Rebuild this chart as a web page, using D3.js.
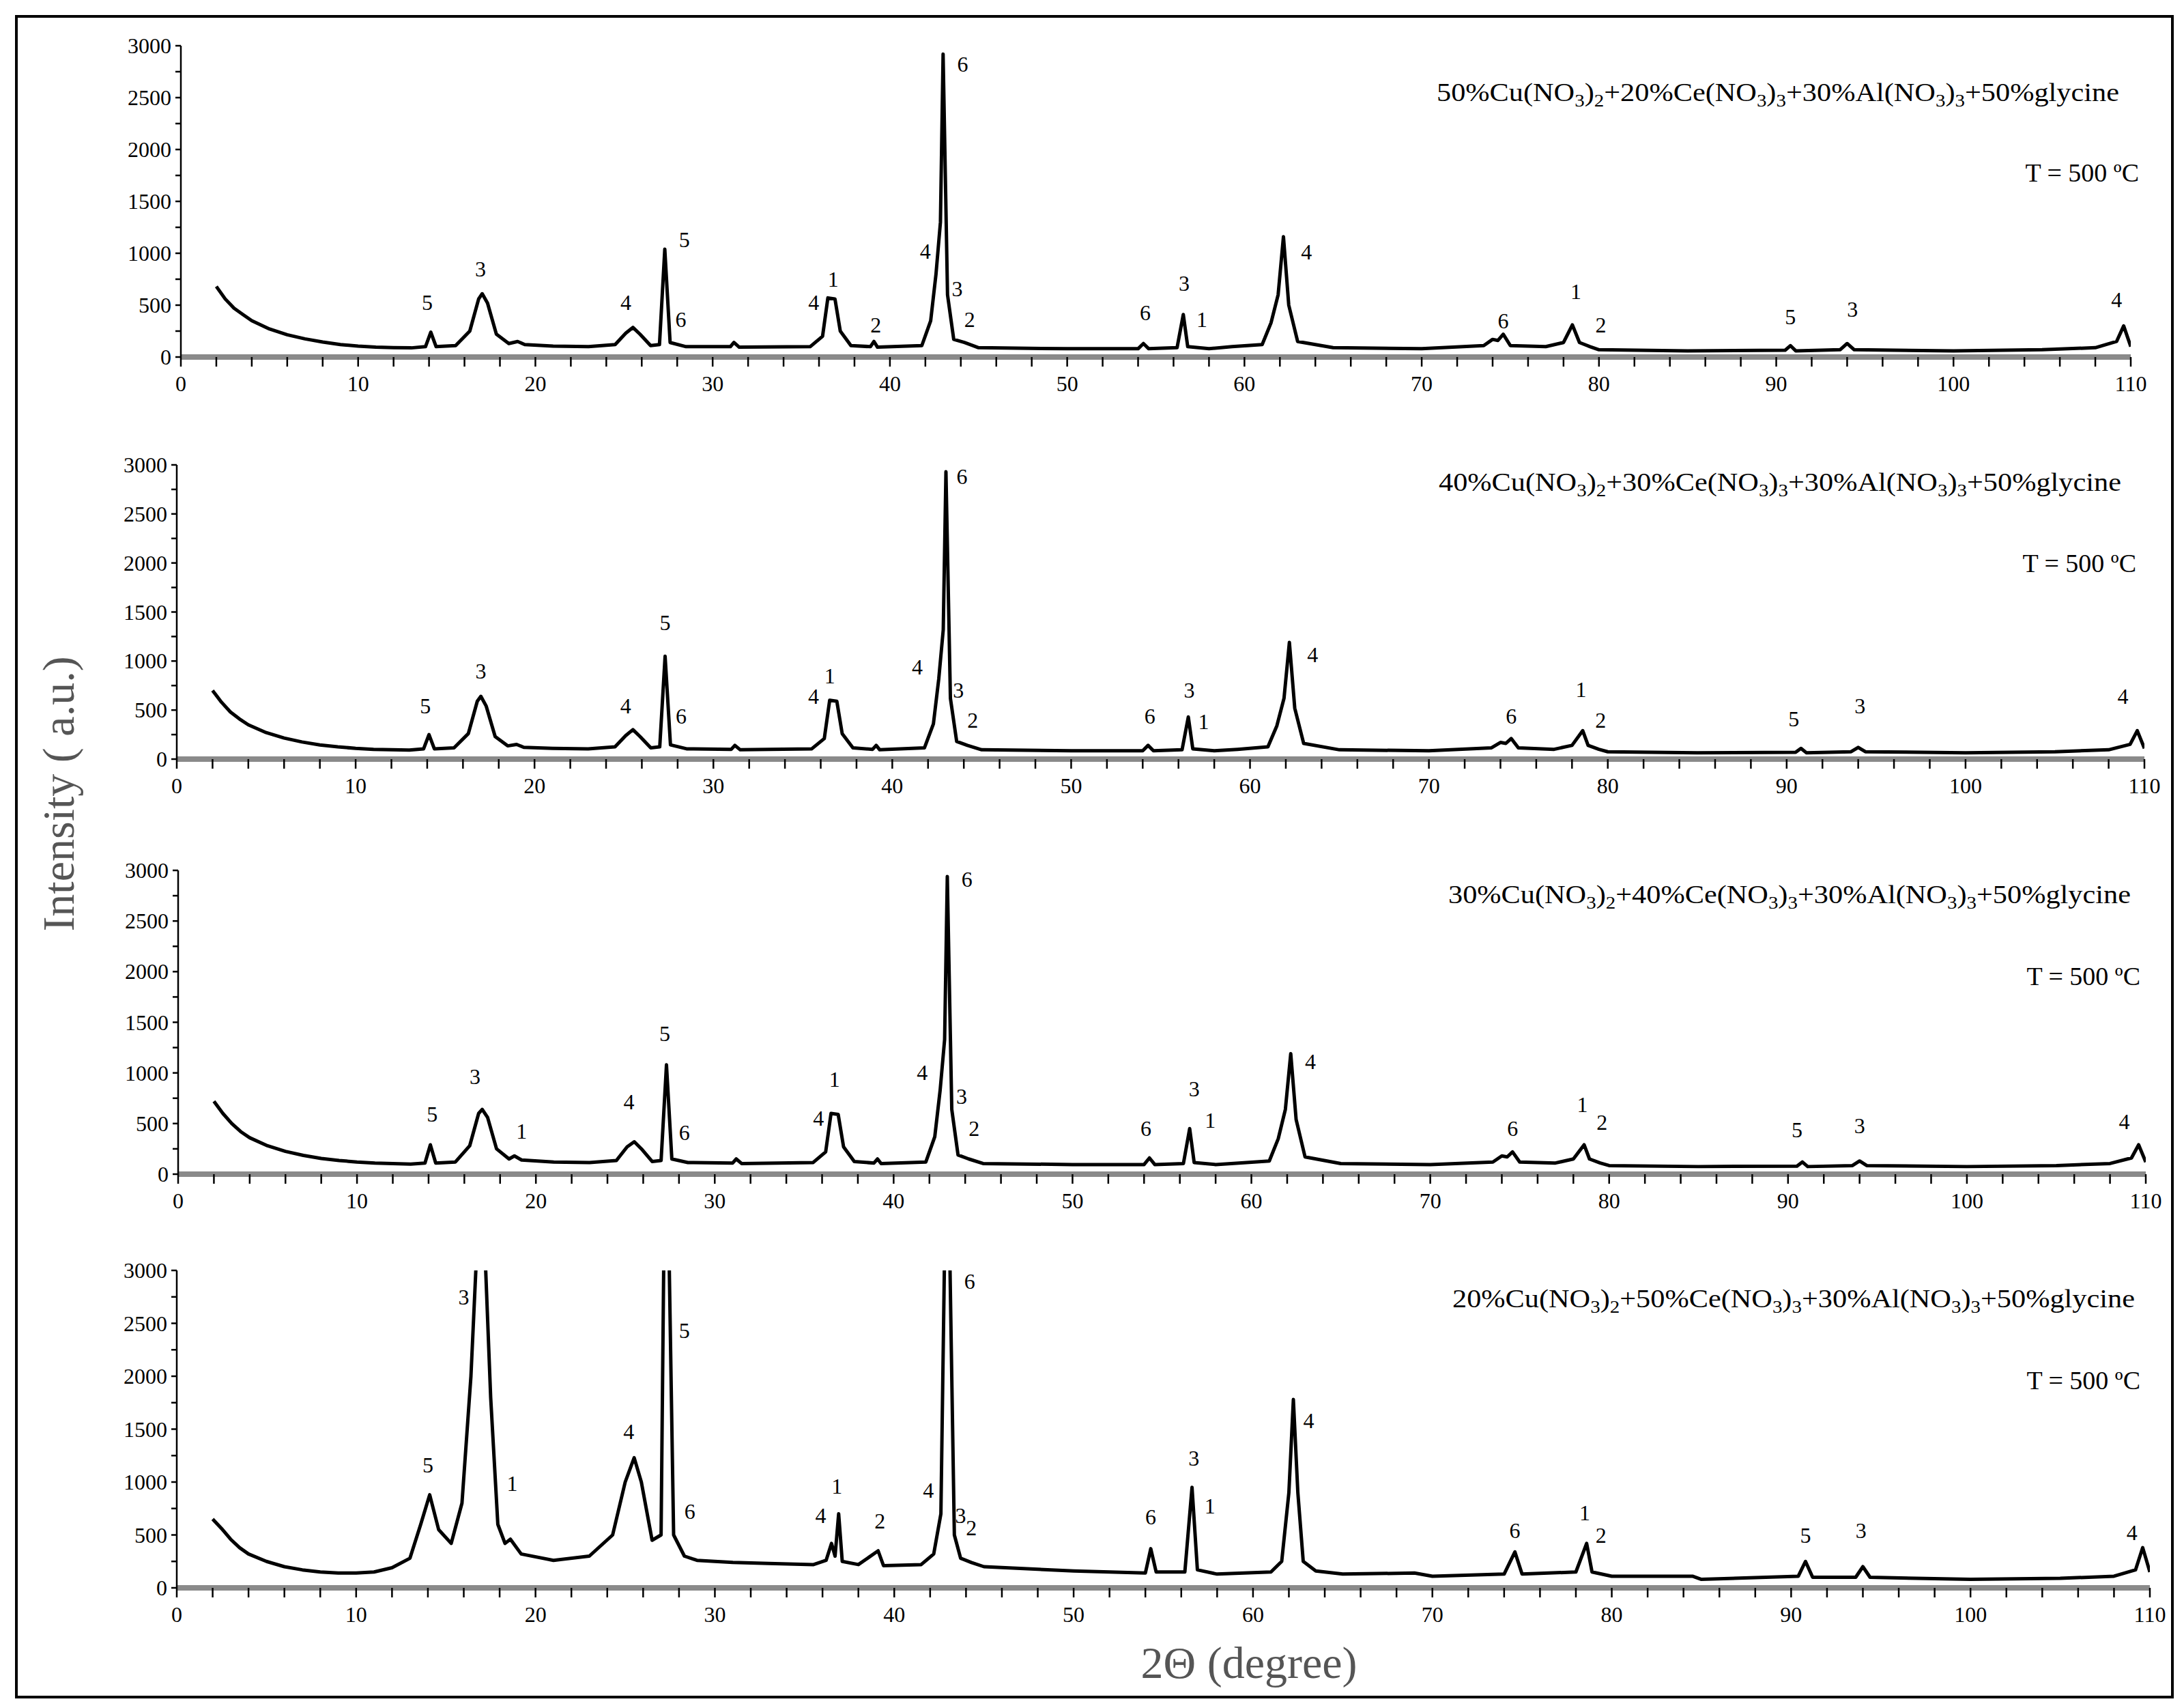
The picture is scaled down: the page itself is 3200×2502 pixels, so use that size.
<!DOCTYPE html>
<html><head><meta charset="utf-8">
<script src="https://cdn.jsdelivr.net/npm/d3@7"></script>
<style>body{margin:0;background:#fff}</style>
</head><body>
<svg id="chart" width="3200" height="2502"></svg>
<script>
// XRD profiles, [2theta, intensity]
const profile1 = [[2,680],[2.5,560],[3,470],[3.5,410],[4,350],[5,270],[6,215],[7,175],[8,145],[9,120],[10,105],[11,95],[12,90],[13,88],[13.8,100],[14.1,240],[14.4,100],[15.5,110],[16.3,250],[16.8,560],[17,610],[17.3,520],[17.8,220],[18.5,130],[19,150],[19.4,120],[21,105],[23,100],[24.5,120],[25.1,230],[25.5,285],[25.9,220],[26.5,110],[27,120],[27.3,1040],[27.6,140],[28.5,100],[31,100],[31.2,140],[31.5,95],[35.5,100],[36.2,200],[36.5,570],[36.9,560],[37.2,250],[37.8,110],[38.9,100],[39.1,150],[39.3,95],[41.8,110],[42.3,350],[42.6,800],[42.85,1300],[43,2920],[43.25,600],[43.6,170],[44.2,140],[45,90],[50,80],[54,80],[54.3,130],[54.6,80],[56.2,90],[56.55,410],[56.8,100],[58,80],[59.3,100],[61,120],[61.5,330],[61.9,600],[62.2,1160],[62.5,500],[63,150],[65,90],[70,80],[73.5,110],[74,170],[74.3,160],[74.6,220],[75,110],[77,100],[78,140],[78.5,310],[78.9,140],[79.5,100],[80,70],[85,60],[90.5,65],[90.8,110],[91.1,60],[93.6,70],[94,130],[94.4,70],[100,60],[105,70],[108,90],[109.2,150],[109.6,300],[110,100]];
const profile2 = [[2,700],[2.5,580],[3,480],[3.5,410],[4,350],[5,270],[6,215],[7,175],[8,145],[9,125],[10,110],[11,100],[12,95],[13,92],[13.8,105],[14.1,250],[14.4,105],[15.5,115],[16.3,260],[16.8,590],[17,640],[17.3,540],[17.8,230],[18.5,135],[19,150],[19.4,120],[21,110],[23,105],[24.5,125],[25.1,240],[25.5,300],[25.9,230],[26.5,115],[27,125],[27.3,1050],[27.6,145],[28.5,105],[31,100],[31.2,140],[31.5,95],[35.5,105],[36.2,210],[36.5,600],[36.9,590],[37.2,260],[37.8,115],[38.9,100],[39.1,140],[39.3,95],[41.8,115],[42.3,360],[42.6,820],[42.85,1320],[43,2930],[43.25,620],[43.6,180],[44.2,140],[45,95],[50,85],[54,85],[54.3,140],[54.6,85],[56.2,95],[56.55,430],[56.8,105],[58,85],[59.3,100],[61,125],[61.5,340],[61.9,620],[62.2,1190],[62.5,520],[63,160],[65,95],[70,85],[73.5,115],[74,170],[74.3,160],[74.6,210],[75,115],[77,100],[78,140],[78.6,290],[78.9,140],[79.5,100],[80,75],[85,65],[90.5,70],[90.8,110],[91.1,65],[93.6,75],[94,120],[94.4,75],[100,65],[105,75],[108,95],[109.2,150],[109.6,290],[110,110]];
const profile3 = [[2,720],[2.5,600],[3,500],[3.5,420],[4,360],[5,280],[6,225],[7,185],[8,155],[9,135],[10,120],[11,110],[12,105],[13,100],[13.8,110],[14.1,290],[14.4,110],[15.5,120],[16.3,280],[16.8,600],[17,640],[17.3,560],[17.8,250],[18.5,150],[18.8,180],[19.2,140],[21,120],[23,115],[24.5,135],[25.1,270],[25.5,320],[25.9,250],[26.5,125],[27,135],[27.3,1080],[27.6,150],[28.5,115],[31,110],[31.2,150],[31.5,105],[35.5,115],[36.2,220],[36.5,600],[36.9,590],[37.2,270],[37.8,125],[38.9,110],[39.1,150],[39.3,105],[41.8,120],[42.3,370],[42.6,830],[42.85,1330],[43,2940],[43.25,640],[43.6,190],[44.2,150],[45,105],[50,95],[54,95],[54.3,160],[54.6,95],[56.2,105],[56.55,450],[56.8,115],[58,95],[59.3,110],[61,130],[61.5,350],[61.9,640],[62.2,1190],[62.5,540],[63,170],[65,105],[70,95],[73.5,120],[74,180],[74.3,170],[74.6,220],[75,120],[77,110],[78,150],[78.6,290],[78.9,150],[79.5,110],[80,85],[85,75],[90.5,80],[90.8,120],[91.1,75],[93.6,85],[94,130],[94.4,85],[100,75],[105,85],[108,105],[109.2,160],[109.6,290],[110,120]];
const profile4 = [[2,650],[2.5,560],[3,460],[3.5,380],[4,320],[5,250],[6,200],[7,170],[8,150],[9,140],[10,140],[11,150],[12,190],[13,280],[13.6,600],[14.1,880],[14.6,550],[15.3,420],[15.9,800],[16.4,2000],[16.7,3100],[17.2,3100],[17.5,1800],[17.9,600],[18.3,420],[18.6,460],[19.2,320],[21,260],[23,300],[24.3,500],[25,1000],[25.5,1230],[25.9,1000],[26.5,450],[27,500],[27.15,3100],[27.45,3100],[27.7,500],[28.3,300],[29,260],[31,240],[33,230],[35.5,220],[36.2,260],[36.5,420],[36.7,300],[36.9,700],[37.1,250],[38,220],[39.1,350],[39.4,210],[41.5,220],[42.2,320],[42.6,700],[42.8,3100],[43.1,3100],[43.35,500],[43.7,280],[44.3,240],[45,200],[50,160],[54,140],[54.3,370],[54.6,150],[56.2,150],[56.6,950],[56.9,170],[58,130],[61,150],[61.6,250],[62,900],[62.25,1780],[62.5,900],[62.8,250],[63.5,160],[65,130],[69,140],[70,110],[74,130],[74.6,340],[75,130],[78,150],[78.6,420],[78.9,150],[80,110],[84.5,110],[85,80],[90.4,110],[90.8,250],[91.2,100],[93.6,100],[94,200],[94.4,100],[100,80],[105,90],[108,110],[109.2,170],[109.6,380],[110,150]];

// peak index labels: [2theta, intensity, label]
const labels1 = [[13.9,525,"5"],[16.9,850,"3"],[25.1,525,"4"],[28.4,1130,"5"],[28.2,365,"6"],[35.7,525,"4"],[36.8,750,"1"],[39.2,310,"2"],[42,1020,"4"],[44.1,2825,"6"],[43.8,660,"3"],[44.5,365,"2"],[54.4,430,"6"],[56.6,710,"3"],[57.6,365,"1"],[63.5,1010,"4"],[74.6,350,"6"],[78.7,630,"1"],[80.1,310,"2"],[90.8,390,"5"],[94.3,460,"3"],[109.2,550,"4"]];
const labels2 = [[13.9,540,"5"],[17,895,"3"],[25.1,540,"4"],[27.3,1390,"5"],[28.2,440,"6"],[35.6,640,"4"],[36.5,850,"1"],[41.4,940,"4"],[43.9,2885,"6"],[43.7,700,"3"],[44.5,400,"2"],[54.4,440,"6"],[56.6,700,"3"],[57.4,385,"1"],[63.5,1065,"4"],[74.6,440,"6"],[78.5,710,"1"],[79.6,400,"2"],[90.4,410,"5"],[94.1,540,"3"],[108.8,640,"4"]];
const labels3 = [[14.2,590,"5"],[16.6,965,"3"],[19.2,425,"1"],[25.2,715,"4"],[27.2,1390,"5"],[28.3,410,"6"],[35.8,550,"4"],[36.7,935,"1"],[41.6,1005,"4"],[44.1,2915,"6"],[43.8,770,"3"],[44.5,455,"2"],[54.1,455,"6"],[56.8,840,"3"],[57.7,535,"1"],[63.3,1115,"4"],[74.6,455,"6"],[78.5,690,"1"],[79.6,510,"2"],[90.5,440,"5"],[94,480,"3"],[108.8,520,"4"]];
const labels4 = [[14,1160,"5"],[16,2750,"3"],[18.7,985,"1"],[25.2,1475,"4"],[28.3,2435,"5"],[28.6,725,"6"],[35.9,685,"4"],[36.8,960,"1"],[39.2,630,"2"],[41.9,920,"4"],[44.2,2895,"6"],[43.7,685,"3"],[44.3,565,"2"],[54.3,670,"6"],[56.7,1225,"3"],[57.6,775,"1"],[63.1,1580,"4"],[74.6,540,"6"],[78.5,710,"1"],[79.4,500,"2"],[90.8,500,"5"],[93.9,540,"3"],[109,525,"4"]];

// sample compositions: Cu, Ce, Al percentages
const compositions = [[50,20,30],[40,30,30],[30,40,30],[20,50,30]];
const yTicks = d3.range(0, 3001, 250);
const xTicks = d3.range(0, 111, 2);

const profiles = [profile1, profile2, profile3, profile4];
const labelSets = [labels1, labels2, labels3, labels4];
const panels = [
  {left:265, right:3122, top:67, bottom:523, fy:148, ty:266, fx:3105, tx:3134},
  {left:259, right:3142, top:681, bottom:1112, fy:719, ty:838, fx:3108, tx:3130},
  {left:261, right:3144, top:1275, bottom:1720, fy:1323, ty:1443, fx:3122, tx:3136},
  {left:259, right:3150, top:1861, bottom:2326, fy:1915, ty:2035, fx:3128, tx:3136}
];

const svg = d3.select('#chart');
const serif = "'Liberation Serif', 'Times New Roman', serif";
svg.append('rect').attr('x', 24).attr('y', 24).attr('width', 3159).attr('height', 2462)
  .attr('fill', 'none').attr('stroke', '#000').attr('stroke-width', 4);

panels.forEach(function(p, i) {
  let x = d3.scaleLinear().domain([0, 110]).range([p.left, p.right]);
  let y = d3.scaleLinear().domain([0, 3000]).range([p.bottom, p.top]);
  let g = svg.append('g');

  g.append('clipPath').attr('id', 'clip' + i).append('rect')
    .attr('x', p.left).attr('y', p.top).attr('width', p.right - p.left).attr('height', p.bottom - p.top);

  // x axis: grey baseline with small black ticks
  g.append('line').attr('x1', p.left).attr('x2', p.right).attr('y1', p.bottom).attr('y2', p.bottom)
    .attr('stroke', '#8a8a8a').attr('stroke-width', 8);
  g.selectAll('.xt').data(xTicks).enter().append('line')
    .attr('x1', d => x(d)).attr('x2', d => x(d)).attr('y1', p.bottom).attr('y2', p.bottom + 14)
    .attr('stroke', '#000').attr('stroke-width', 2.5);
  g.selectAll('.xl').data(xTicks.filter(d => d % 10 === 0)).enter().append('text')
    .attr('x', d => x(d)).attr('y', p.bottom + 50).attr('text-anchor', 'middle')
    .attr('font-family', serif).attr('font-size', 32).text(d => d);

  // y axis
  g.append('line').attr('x1', p.left).attr('x2', p.left).attr('y1', p.top).attr('y2', p.bottom)
    .attr('stroke', '#000').attr('stroke-width', 2.5);
  g.selectAll('.yt').data(yTicks).enter().append('line')
    .attr('x1', p.left - 8).attr('x2', p.left).attr('y1', d => y(d)).attr('y2', d => y(d))
    .attr('stroke', '#000').attr('stroke-width', 2.5);
  g.selectAll('.yl').data(yTicks.filter(d => d % 500 === 0)).enter().append('text')
    .attr('x', p.left - 14).attr('y', d => y(d) + 11).attr('text-anchor', 'end')
    .attr('font-family', serif).attr('font-size', 32).text(d => d);

  // pattern
  let line = d3.line().x(d => x(d[0])).y(d => y(d[1]));
  g.append('path').datum(profiles[i]).attr('d', line).attr('clip-path', 'url(#clip' + i + ')')
    .attr('fill', 'none').attr('stroke', '#000').attr('stroke-width', 5).attr('stroke-linejoin', 'round');

  g.selectAll('.pk').data(labelSets[i]).enter().append('text')
    .attr('x', d => x(d[0])).attr('y', d => y(d[1]) + 11).attr('text-anchor', 'middle')
    .attr('font-family', serif).attr('font-size', 32).text(d => d[2]);

  // composition legend
  let c = compositions[i];
  let t = g.append('text').attr('x', p.fx).attr('y', p.fy).attr('text-anchor', 'end')
    .attr('font-family', serif).attr('font-size', 38)
    .attr('textLength', 1000).attr('lengthAdjust', 'spacingAndGlyphs');
  let parts = [[c[0] + '%Cu(NO', 0], ['3', 1], [')', 0], ['2', 1], ['+' + c[1] + '%Ce(NO', 0], ['3', 1], [')', 0], ['3', 1],
    ['+' + c[2] + '%Al(NO', 0], ['3', 1], [')', 0], ['3', 1], ['+50%glycine', 0]];
  parts.forEach(function(s) {
    t.append('tspan').attr('baseline-shift', s[1] ? '-8' : '0').attr('font-size', s[1] ? 26 : 38).text(s[0]);
  });
  g.append('text').attr('x', p.tx).attr('y', p.ty).attr('text-anchor', 'end')
    .attr('font-family', serif).attr('font-size', 38).text('T = 500 ºC');
});

svg.append('text').attr('transform', 'translate(108,1163) rotate(-90)').attr('text-anchor', 'middle')
  .attr('font-family', serif).attr('font-size', 66).attr('fill', '#555').text('Intensity ( a.u.)');
svg.append('text').attr('x', 1830).attr('y', 2458).attr('text-anchor', 'middle')
  .attr('font-family', serif).attr('font-size', 66).attr('fill', '#555').text('2Θ (degree)');
</script>
</body></html>
